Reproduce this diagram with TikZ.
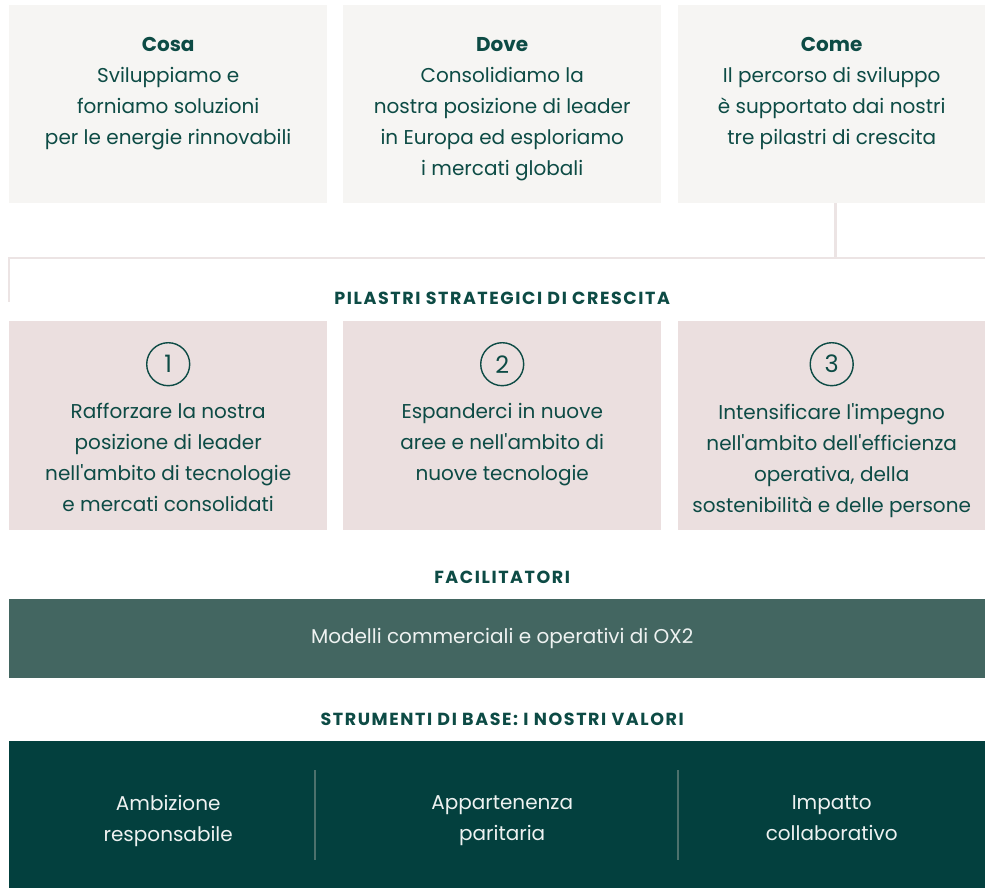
\documentclass[tikz,border=0pt]{standalone}
\usepackage{fontspec}
\setmainfont{Poppins}[Ligatures=TeXOff]
\usetikzlibrary{positioning}
\definecolor{oxtext}{HTML}{0D4B45}
\definecolor{oxgrey}{HTML}{F6F5F3}
\definecolor{oxpink}{HTML}{EBDFDF}
\definecolor{oxline}{HTML}{ECE4E4}
\definecolor{oxteal}{HTML}{436661}
\definecolor{oxdark}{HTML}{03403E}
\definecolor{oxsep}{HTML}{4D716C}
\definecolor{oxwhite}{HTML}{EEF2F1}

\begin{document}
\begin{tikzpicture}[x=1pt,y=-1pt]
		\tikzstyle{every node}=[font=\fontsize{20}{31}\selectfont, text=oxtext, inner sep=0pt]
		\tikzstyle{topbox}=[fill=oxgrey, minimum height=198pt, anchor=north west]
		\tikzstyle{pilbox}=[fill=oxpink, minimum height=209pt, anchor=north west]
		\tikzstyle{boxtxt}=[align=center, anchor=north]
		\tikzstyle{numcirc}=[circle, draw=oxtext, line width=1.4pt, minimum size=43pt, font=\fontsize{24}{24}\selectfont]
		\tikzstyle{head}=[font=\fontsize{17.5}{18}\selectfont\bfseries\addfontfeature{LetterSpace=9}]
		\tikzstyle{conn}=[draw=oxline, line width=2.6pt]
		\tikzstyle{sepline}=[draw=oxsep, line width=2pt]
		\useasboundingbox (0,0) rectangle (985,888);
		% cosa / dove / come
		\node [topbox, minimum width=318pt] (cosa) at (9,5) {};
		\node [topbox, minimum width=318pt] (dove) at (343,5) {};
		\node [topbox, minimum width=307pt] (come) at (678,5) {};
		\node [boxtxt, below=32pt of cosa.north] (cosatxt) {\textbf{Cosa}\\Sviluppiamo e\\forniamo soluzioni\\per le energie rinnovabili};
		\node [boxtxt, below=32pt of dove.north] (dovetxt) {\textbf{Dove}\\Consolidiamo la\\nostra posizione di leader\\in Europa ed esploriamo\\i mercati globali};
		\node [boxtxt, below=32pt of come.north] (cometxt) {\textbf{Come}\\Il percorso di sviluppo\\è supportato dai nostri\\tre pilastri di crescita};
		% connector
		\coordinate (lnright) at (985,258);
		\coordinate (lnleft) at (9,258);
		\coordinate (lnend) at (9,302);
		\draw [conn] ([xshift=4pt]come.south) -- ([xshift=4pt]come.south |- lnright);
		\draw [conn] (lnright) -- (lnleft) -- (lnend);
		% pilastri
		\node [pilbox, minimum width=318pt] (pil1) at (9,321) {};
		\node [pilbox, minimum width=318pt] (pil2) at (343,321) {};
		\node [pilbox, minimum width=307pt] (pil3) at (678,321) {};
		\node [head, above=16pt of pil2.north] (pilhead) {PILASTRI STRATEGICI DI CRESCITA};
		\node [numcirc, below=21pt of pil1.north] (num1) {1};
		\node [numcirc, below=21pt of pil2.north] (num2) {2};
		\node [numcirc, below=21pt of pil3.north] (num3) {3};
		\node [boxtxt, below=17pt of num1] (pil1txt) {Rafforzare la nostra\\posizione di leader\\nell'ambito di tecnologie\\e mercati consolidati};
		\node [boxtxt, below=17pt of num2] (pil2txt) {Espanderci in nuove\\aree e nell'ambito di\\nuove tecnologie};
		\node [boxtxt, below=17pt of num3] (pil3txt) {Intensificare l'impegno\\nell'ambito dell'efficienza\\operativa, della\\sostenibilità e delle persone};
		% facilitatori
		\node [fill=oxteal, minimum width=976pt, minimum height=79pt, anchor=north west] (facil) at (9,599) {};
		\node [head, above=15pt of facil.north -| pil2.north] (facilhead) {FACILITATORI};
		\node [text=oxwhite, at=(facil.center -| pil2.north)] (faciltxt) {Modelli commerciali e operativi di OX2};
		% valori
		\node [fill=oxdark, minimum width=976pt, minimum height=147pt, anchor=north west] (valori) at (9,741) {};
		\node [head, above=15pt of valori.north -| pil2.north] (valorihead) {STRUMENTI DI BASE: I NOSTRI VALORI};
		\node [boxtxt, text=oxwhite, below=54pt of valori.north -| pil1.north] (val1) {Ambizione\\responsabile};
		\node [boxtxt, text=oxwhite, below=54pt of valori.north -| pil2.north] (val2) {Appartenenza\\paritaria};
		\node [boxtxt, text=oxwhite, below=54pt of valori.north -| pil3.north] (val3) {Impatto\\collaborativo};
		\draw [sepline] (315,770) -- (315,860);
		\draw [sepline] (678,770) -- (678,860);
	\end{tikzpicture}
\end{document}
